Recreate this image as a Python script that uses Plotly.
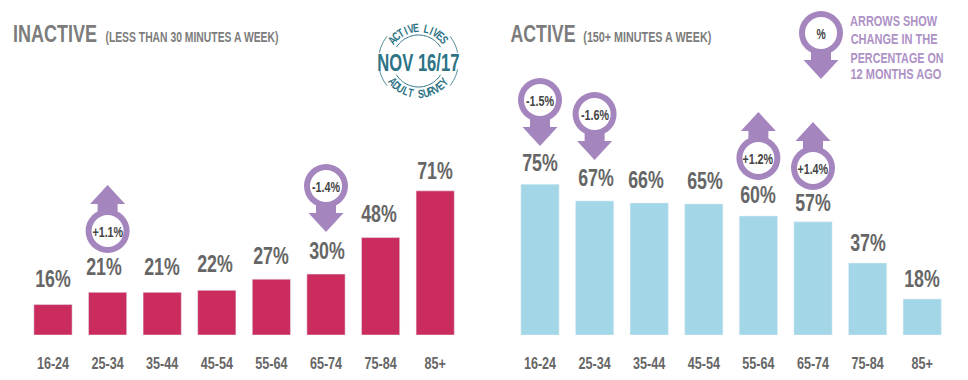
import json
import math
import plotly.graph_objects as go

# ---- data ----
categories = ["16-24", "25-34", "35-44", "45-54", "55-64", "65-74", "75-84", "85+"]
inactive_values = [15, 21, 21, 22, 27.5, 30, 48, 71]
active_values = [75, 66.7, 65.7, 65.2, 59.2, 56.3, 35.8, 17.9]
inactive_labels = ["16%", "21%", "21%", "22%", "27%", "30%", "48%", "71%"]
active_labels = ["75%", "67%", "66%", "65%", "60%", "57%", "37%", "18%"]
inactive_changes = {"25-34": "+1.1%", "65-74": "-1.4%"}
active_changes = {"16-24": "-1.5%", "25-34": "-1.6%", "55-64": "+1.2%", "65-74": "+1.4%"}
legend_lines = ["ARROWS SHOW", "CHANGE IN THE", "PERCENTAGE ON", "12 MONTHS AGO"]

# ---- style / layout ----
W, H = 968, 380
PINK, BLUE, PURPLE, TEAL = "#CB2C5E", "#A3D7E8", "#A585BE", "#2C7385"
GREY, DARK, TITLE = "#666666", "#444444", "#7C7C7C"
FONT = "Liberation Sans"
BASE_Y = 335
PX_PER_UNIT_L, PX_PER_UNIT_R = 2.03, 2.01
lift_l = [11, 10, 10, 11, 8, 8, 9, 5]
lift_r = [6, 8, 8, 8, 6, 4, 5, 5]
shift_l = [0, -4, 0, -2, 0, 1, -2, 0]
shift_r = [0, 1, -3, 1, 0, 0, 0, 0]
dom_l = (25.7, 462.5)
dom_r = (512.7, 949.5)
marker_cy_l = {"25-34": 231, "65-74": 186}
marker_cy_r = {"16-24": 100, "25-34": 114, "55-64": 158, "65-74": 168}


def px(x):
    return x / W


def py(y):
    return 1 - y / H


fig = go.Figure()
fig.add_bar(x=categories, y=inactive_values, marker_color=PINK, xaxis="x", yaxis="y", showlegend=False)
fig.add_bar(x=categories, y=active_values, marker_color=BLUE, xaxis="x2", yaxis="y2", showlegend=False)

shapes, annos = [], []
fit_widths = {}   # exact rendered width (px) for texts set in the condensed display face


def text(x, y, s, size, color, angle=0, width=None):
    annos.append(dict(x=px(x), y=py(y), xref="paper", yref="paper", text=s, showarrow=False,
                      xanchor="center", yanchor="middle", textangle=angle,
                      font=dict(family=FONT, size=size, color=color, weight="bold"), borderpad=0))
    if width:
        fit_widths[s] = width


def poly(points, **kw):
    d = "M" + " L".join(f"{px(a):.5f},{py(b):.5f}" for a, b in points)
    return dict(type="path", path=d, xref="paper", yref="paper", **kw)


def circle(cx, cy, r, fill):
    return dict(type="circle", xref="paper", yref="paper", x0=px(cx - r), x1=px(cx + r),
                y0=py(cy + r), y1=py(cy - r), fillcolor=fill, line_width=0)


def marker(cx, cy, down, label, size=14.5):
    s = 1 if down else -1
    pts = [(cx - 10, cy), (cx - 10, cy + s * 27), (cx - 17.5, cy + s * 27), (cx, cy + s * 46),
           (cx + 17.5, cy + s * 27), (cx + 10, cy + s * 27), (cx + 10, cy)]
    shapes.append(poly(pts + [pts[0]], fillcolor=PURPLE, line_width=0))
    shapes.append(circle(cx, cy, 22, PURPLE))
    shapes.append(circle(cx, cy, 16, "white"))
    text(cx, cy + 1, label, size, DARK)


def cat_x(dom, cat):
    return dom[0] + (categories.index(cat) + 0.5) * (dom[1] - dom[0]) / len(categories)


for cat, lab in inactive_changes.items():
    marker(cat_x(dom_l, cat), marker_cy_l[cat], lab[0] == "-", lab)
for cat, lab in active_changes.items():
    marker(cat_x(dom_r, cat), marker_cy_r[cat], lab[0] == "-", lab)
marker(821, 33, True, "%", 14)

# value labels, tied to the bars
for axis, vals, labs, lifts, shifts in (("", inactive_values, inactive_labels, lift_l, shift_l),
                                        ("2", active_values, active_labels, lift_r, shift_r)):
    for c, v, l, lf, sh in zip(categories, vals, labs, lifts, shifts):
        annos.append(dict(x=c, y=v, xref=f"x{axis}", yref=f"y{axis}", text=l, showarrow=False,
                          yanchor="bottom", yshift=lf, xshift=sh,
                          font=dict(family=FONT, size=24, color=GREY, weight="bold")))

# titles
text(55, 33, "INACTIVE", 24, TITLE, width=84)
text(191.5, 37, "(LESS THAN 30 MINUTES A WEEK)", 14, TITLE, width=173)
text(543, 33, "ACTIVE", 24, TITLE, width=65)
text(647, 37, "(150+ MINUTES A WEEK)", 14, TITLE, width=128)

# legend note
for yy, cx, wd, line in zip((21, 39, 57, 74), (893.5, 893.5, 896.5, 895.5), (87, 87, 93, 91), legend_lines):
    text(cx, yy, line, 15.5, "#AE92C6", width=wd)

# survey stamp
CX, CY = 418.5, 61


def arc(r, a0, a1):
    n = 40
    return [(CX + r * math.sin(math.radians(a0 + (a1 - a0) * i / n)),
             CY - r * math.cos(math.radians(a0 + (a1 - a0) * i / n))) for i in range(n + 1)]


for r, a0, a1 in ((40, -78, -52), (40, 52, 78), (40, 102, 128), (40, 232, 258),
                  (26, -58, 58), (26, 122, 238)):
    shapes.append(poly(arc(r, a0, a1), line=dict(color=TEAL, width=1), fillcolor="rgba(0,0,0,0)"))
text(CX, CY + 1, "NOV 16/17", 24, TEAL, width=82)
for word, rad, top in (("ACTIVE LIVES", 33, True), ("ADULT SURVEY", 33, False)):
    step = 9.2
    for i, ch in enumerate(word):
        if ch == " ":
            continue
        a = (i - (len(word) - 1) / 2) * step
        ra = math.radians(a)
        if top:
            text(CX + rad * math.sin(ra), CY - rad * math.cos(ra), ch, 12, TEAL, angle=a)
        else:
            text(CX + rad * math.sin(ra), CY + rad * math.cos(ra), ch, 12, TEAL, angle=-a)

tick = dict(type="category", categoryorder="array", categoryarray=categories, showgrid=False, zeroline=False,
            showline=False, ticks="", ticklabelstandoff=16,
            tickfont=dict(family=FONT, size=17, color=GREY, weight="bold"))
ydom = [(H - BASE_Y) / H, 1]
yax = dict(showgrid=False, zeroline=False, showline=False, showticklabels=False, ticks="", domain=ydom)

fig.update_layout(
    width=W, height=H, margin=dict(l=0, r=0, t=0, b=0), paper_bgcolor="white", plot_bgcolor="white",
    bargap=0.3, barmode="overlay", shapes=shapes, annotations=annos,
    xaxis=dict(domain=[dom_l[0] / W, dom_l[1] / W], anchor="y", **tick),
    xaxis2=dict(domain=[dom_r[0] / W, dom_r[1] / W], anchor="y2", **tick),
    yaxis=dict(range=[0, BASE_Y / PX_PER_UNIT_L], anchor="x", **yax),
    yaxis2=dict(range=[0, BASE_Y / PX_PER_UNIT_R], anchor="x2", **yax),
)

# No condensed face is installed: narrow the real text to the reference's widths.
post = """
document.body.style.margin='0';document.body.style.overflow='hidden';
var fit = %s;
document.querySelectorAll('.annotation-text, .xtick text, .x2tick text').forEach(function(t){
  var w = t.getComputedTextLength();
  var target = fit[t.textContent] || w * 0.74;
  t.setAttribute('lengthAdjust','spacingAndGlyphs');
  t.setAttribute('textLength', target);
});
""" % json.dumps(fit_widths)
fig.write_html("out.html", config={"displayModeBar": False}, post_script=post)
